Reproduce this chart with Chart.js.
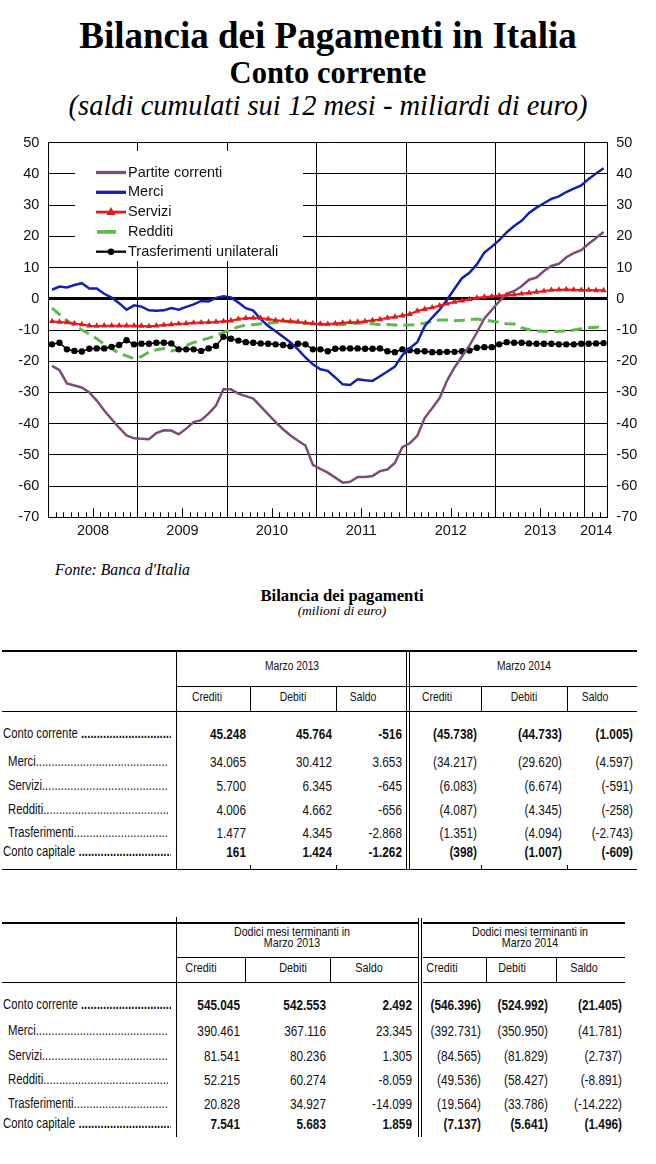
<!DOCTYPE html>
<html>
<head>
<meta charset="utf-8">
<title>Bilancia dei Pagamenti in Italia</title>
<script src="https://cdn.jsdelivr.net/npm/chart.js"></script>
<style>
  body { margin: 0; background: #fff; }
  #page { position: relative; width: 656px; height: 1164px; overflow: hidden; font-family: "Liberation Sans", Arial, sans-serif; color: #000; }
  .title { position: absolute; left: 0; width: 656px; text-align: center; font-family: "Liberation Serif", "Times New Roman", serif; white-space: nowrap; }
  #chartBox { position: absolute; left: 0; top: 125px; width: 656px; height: 425px; }
  .ln { position: absolute; background: #000; }
  .tx { position: absolute; white-space: nowrap; line-height: 18px; height: 18px; color: #111; }
  .lab { overflow: hidden; }
  .b { font-weight: bold; }
</style>
</head>
<body>
<div id="page">
  <div class="title" style="top:14px; font-size:37px; font-weight:bold; line-height:44px;">Bilancia dei Pagamenti in Italia</div>
  <div class="title" style="top:55px; font-size:30.5px; font-weight:bold; line-height:36px;">Conto corrente</div>
  <div class="title" style="top:89px; font-size:28.5px; font-style:italic; line-height:34px;">(saldi cumulati sui 12 mesi - miliardi di euro)</div>
  <div id="chartBox"><canvas id="bopChart" width="656" height="425"></canvas></div>
  <div class="title" style="left:55px; width:auto; text-align:left; top:560px; font-size:15.7px; font-style:italic; line-height:20px;">Fonte: Banca d'Italia</div>
  <div class="title" style="left:142px; width:400px; top:586px; font-size:16.7px; font-weight:bold; line-height:20px;">Bilancia dei pagamenti</div>
  <div class="title" style="left:142px; width:400px; top:603px; font-size:13.5px; font-style:italic; line-height:16px;">(milioni di euro)</div>
  <div id="tables"></div>
</div>

<script>
// monthly series, Jan 2008 .. Mar 2014 (12-month cumulated balances, billions of euro)
const yearLabels = ['2008', '2009', '2010', '2011', '2012', '2013', '2014'];

const partiteCorrenti = [
  -21.5, -22.9, -27.1, -27.8, -28.4, -30.0, -32.6, -35.8, -38.6, -41.3, -43.8, -44.7,
  -44.8, -45.0, -43.0, -42.1, -42.2, -43.4, -41.6, -39.5, -38.9, -36.8, -34.2, -29.0,
  -29.0, -30.4, -31.2, -32.0, -34.5, -37.0, -39.5, -41.8, -43.8, -45.5, -47.0, -53.2,
  -54.5, -55.7, -57.3, -58.9, -58.6, -57.1, -57.1, -56.8, -55.2, -54.7, -52.6, -47.5,
  -46.3, -43.9, -38.2, -35.1, -31.8, -26.2, -22.0, -18.5, -15.0, -10.8, -6.3, -3.6,
  -0.8, 1.6, 2.5, 4.0, 6.1, 6.8, 8.9, 10.5, 11.2, 13.3, 14.6, 15.6,
  17.6, 19.5, 21.4
];
const merci = [
  2.9, 3.9, 3.6, 4.4, 5.0, 3.3, 3.3, 1.6, 0.4, -1.4, -3.5, -2.1,
  -2.5, -3.7, -3.8, -3.7, -3.0, -3.5, -2.6, -1.8, -0.7, -0.9, 0.3, 0.8,
  0.4, -1.2, -3.0, -3.8, -6.5, -8.7, -10.4, -12.2, -14.0, -16.2, -18.8, -21.0,
  -22.6, -23.1, -25.2, -27.4, -27.6, -25.8, -26.1, -26.3, -24.8, -23.3, -21.7, -18.1,
  -15.8, -13.9, -8.8, -6.0, -3.5, -0.3, 3.2, 6.6, 8.3, 11.0, 14.8, 16.7,
  18.8, 21.3, 23.3, 25.0, 27.5, 29.2, 30.6, 32.0, 32.8, 34.2, 35.3, 36.3,
  38.4, 40.1, 41.8
];
const servizi = [
  -7.2, -7.4, -7.6, -7.9, -8.2, -8.6, -8.7, -8.6, -8.6, -8.6, -8.6, -8.6,
  -8.7, -8.8, -8.6, -8.4, -8.2, -8.0, -7.9, -7.7, -7.6, -7.5, -7.4, -7.2,
  -7.0, -6.5, -6.2, -6.1, -6.2, -6.5, -6.9, -7.0, -7.2, -7.4, -7.7, -7.9,
  -8.0, -8.1, -7.9, -7.7, -7.5, -7.4, -7.2, -6.9, -6.6, -6.1, -5.8, -5.4,
  -4.9, -3.9, -3.3, -2.8, -2.2, -1.6, -1.0, -0.6, -0.1, 0.3, 0.6, 0.8,
  1.0, 1.2, 1.3, 1.6, 1.9, 2.2, 2.5, 2.8, 2.9, 3.0, 2.9, 2.8,
  2.8, 2.7, 2.7
];
const redditi = [
  -3.0, -5.0, -7.0, -8.5, -10.0, -11.3, -12.8, -14.5, -16.0, -17.5, -18.3, -19.2,
  -18.5, -17.1, -16.3, -15.9, -16.7, -16.3, -15.0, -14.0, -13.3, -12.6, -11.8, -10.8,
  -9.8, -9.0, -8.4, -8.3, -8.0, -7.8, -7.6, -7.4, -7.3, -7.5, -7.8, -8.0,
  -8.2, -8.3, -8.3, -8.2, -8.0, -7.8, -7.7, -8.0, -8.3, -8.2, -8.4, -8.5,
  -8.4, -8.3, -7.8, -7.2, -6.8, -6.8, -7.0, -6.9, -6.7, -6.5, -6.8, -7.2,
  -7.5, -8.0, -8.1, -9.3, -9.9, -10.3, -10.4, -10.4, -10.4, -10.3, -10.0, -9.6,
  -9.3, -9.1, -8.9
];
const trasferimenti = [
  -14.6, -14.1, -16.2, -16.7, -16.9, -16.0, -15.9, -15.9, -15.4, -14.8, -13.3, -14.6,
  -14.4, -14.4, -14.1, -14.1, -14.3, -16.2, -16.2, -16.2, -16.7, -15.9, -15.1, -12.2,
  -12.8, -13.4, -13.9, -14.1, -14.3, -14.4, -14.6, -14.8, -15.2, -14.4, -14.6, -16.2,
  -16.2, -16.8, -16.0, -15.9, -15.9, -15.9, -16.0, -16.0, -15.9, -16.8, -17.1, -16.2,
  -16.5, -16.8, -16.8, -17.1, -17.1, -17.0, -17.0, -16.8, -16.6, -15.7, -15.5, -15.5,
  -14.6, -13.9, -14.1, -14.1, -14.3, -14.4, -14.4, -14.4, -14.6, -14.6, -14.6, -14.4,
  -14.4, -14.3, -14.2
];

// x positions: month index 0 = Jan 2008; year edges and label positions
const yearEdges = [11.5, 23.5, 35.5, 47.5, 59.5, 71.5];
const yearMids = [5.5, 17.5, 29.5, 41.5, 53.5, 65.5, 73];

// tables (milioni di euro)
const rowLabels = ['Conto corrente', 'Merci', 'Servizi', 'Redditi', 'Trasferimenti', 'Conto capitale'];
const boldRows = [true, false, false, false, false, true];
const subHeaders = ['Crediti', 'Debiti', 'Saldo'];
const marzo2013 = [['45.248', '45.764', '-516'], ['34.065', '30.412', '3.653'], ['5.700', '6.345', '-645'],
  ['4.006', '4.662', '-656'], ['1.477', '4.345', '-2.868'], ['161', '1.424', '-1.262']];
const marzo2014 = [['(45.738)', '(44.733)', '(1.005)'], ['(34.217)', '(29.620)', '(4.597)'], ['(6.083)', '(6.674)', '(-591)'],
  ['(4.087)', '(4.345)', '(-258)'], ['(1.351)', '(4.094)', '(-2.743)'], ['(398)', '(1.007)', '(-609)']];
const dodici2013 = [['545.045', '542.553', '2.492'], ['390.461', '367.116', '23.345'], ['81.541', '80.236', '1.305'],
  ['52.215', '60.274', '-8.059'], ['20.828', '34.927', '-14.099'], ['7.541', '5.683', '1.859']];
const dodici2014 = [['(546.396)', '(524.992)', '(21.405)'], ['(392.731)', '(350.950)', '(41.781)'], ['(84.565)', '(81.829)', '(2.737)'],
  ['(49.536)', '(58.427)', '(-8.891)'], ['(19.564)', '(33.786)', '(-14.222)'], ['(7.137)', '(5.641)', '(1.496)']];

const pts = arr => arr.map((v, i) => ({ x: i, y: v }));

// legend drawn inside the plot, on a white box
const innerLegend = {
  id: 'innerLegend',
  afterDraw(chart) {
    const ctx = chart.ctx;
    ctx.save();
    ctx.fillStyle = '#fff';
    ctx.fillRect(75, 26, 228, 110);
    ctx.font = '14.5px "Liberation Sans", Arial, sans-serif';
    ctx.textBaseline = 'middle';
    chart.data.datasets.forEach((ds, i) => {
      const y = 47.5 + i * 19.8;
      ctx.strokeStyle = ds.borderColor;
      ctx.fillStyle = ds.borderColor;
      ctx.lineWidth = ds.borderWidth + 0.8;
      ctx.beginPath();
      if (ds.borderDash) { ctx.moveTo(97, y); ctx.lineTo(116, y); }
      else { ctx.moveTo(96, y); ctx.lineTo(126, y); }
      ctx.stroke();
      if (ds.pointRadius > 0) {
        ctx.beginPath();
        if (ds.pointStyle === 'triangle') {
          ctx.moveTo(111, y - 5); ctx.lineTo(115.5, y + 3); ctx.lineTo(106.5, y + 3);
        } else {
          ctx.arc(111, y, 3.2, 0, Math.PI * 2);
        }
        ctx.fill();
      }
      ctx.fillStyle = '#111';
      ctx.fillText(ds.label, 128, y);
    });
    ctx.restore();
  }
};

// small month ticks along the bottom edge, pointing inward
const monthTicks = {
  id: 'monthTicks',
  afterDraw(chart) {
    const xs = chart.scales.x;
    const bottom = chart.chartArea.bottom;
    const ctx = chart.ctx;
    ctx.save();
    ctx.strokeStyle = '#000';
    ctx.lineWidth = 1;
    for (let k = 1; k < 75; k++) {
      if (k % 12 === 0) continue;
      const px = Math.round(xs.getPixelForValue(k - 0.5)) + 0.5;
      const len = (k % 12 === 6) ? 9 : 5;
      ctx.beginPath();
      ctx.moveTo(px, bottom);
      ctx.lineTo(px, bottom - len);
      ctx.stroke();
    }
    ctx.restore();
  }
};

Chart.defaults.font.family = '"Liberation Sans", Arial, sans-serif';
Chart.defaults.color = '#111';

new Chart(document.getElementById('bopChart'), {
  type: 'line',
  data: {
    datasets: [
      { label: 'Partite correnti', data: pts(partiteCorrenti), borderColor: '#7b4d78', borderWidth: 2.5, pointRadius: 0, order: 1 },
      { label: 'Merci', data: pts(merci), borderColor: '#1420b0', borderWidth: 2.5, pointRadius: 0, order: 2 },
      { label: 'Servizi', data: pts(servizi), borderColor: '#e3191c', backgroundColor: '#e3191c', borderWidth: 2,
        pointStyle: 'triangle', pointRadius: 3.6, pointBorderWidth: 0, order: 0 },
      { label: 'Redditi', data: pts(redditi), borderColor: '#5fba4c', borderWidth: 3, borderDash: [11, 6], pointRadius: 0, order: 4 },
      { label: 'Trasferimenti unilaterali', data: pts(trasferimenti), borderColor: '#000', backgroundColor: '#000', borderWidth: 1.5,
        pointStyle: 'circle', pointRadius: 3.2, pointBorderWidth: 0, order: 3 }
    ]
  },
  options: {
    responsive: false,
    animation: false,
    devicePixelRatio: 1,
    layout: { padding: { top: 15, left: 0, right: 0, bottom: 0 } },
    plugins: { legend: { display: false }, tooltip: { enabled: false } },
    scales: {
      x: {
        type: 'linear', min: -0.5, max: 74.5,
        afterBuildTicks: s => { s.ticks = yearEdges.concat(yearMids).map(v => ({ value: v })); },
        afterFit: s => { s.height = 32.7; },
        grid: {
          color: c => (c.tick && yearEdges.includes(c.tick.value)) ? '#000' : 'rgba(0,0,0,0)',
          lineWidth: 1, drawTicks: false
        },
        border: { display: false },
        ticks: {
          autoSkip: false, maxRotation: 0, padding: 5, font: { size: 14.5 },
          callback: v => { const k = yearMids.indexOf(v); return k >= 0 ? yearLabels[k] : ''; }
        }
      },
      y: {
        position: 'left', min: -70, max: 50,
        afterFit: s => { s.width = 48.3; },
        grid: { color: '#000', lineWidth: c => (c.tick && c.tick.value === 0) ? 3 : 1, drawTicks: false },
        border: { color: '#000' },
        ticks: { stepSize: 10, padding: 9, font: { size: 14.5 } }
      },
      y2: {
        position: 'right', min: -70, max: 50,
        afterFit: s => { s.width = 48.7; },
        grid: { drawOnChartArea: false, drawTicks: false },
        border: { color: '#000' },
        ticks: { stepSize: 10, padding: 9, font: { size: 14.5 } }
      }
    }
  },
  plugins: [innerLegend, monthTicks]
});

// ---- tables ----
const host = document.getElementById('tables');

// is the narrow face installed? if not, squeeze the normal one
const probe = document.createElement('canvas').getContext('2d');
probe.font = '20px "Liberation Sans Narrow", monospace';
const wNarrow = probe.measureText('Conto corrente').width;
probe.font = '20px monospace';
const narrowOK = Math.abs(wNarrow - probe.measureText('Conto corrente').width) > 0.5;
const squeeze = narrowOK ? 1 : 0.82;
const narrowFamily = narrowOK ? '"Liberation Sans Narrow", "Arial Narrow", sans-serif' : '"Liberation Sans", Arial, sans-serif';

function line(x1, y1, x2, y2, w) {
  const d = document.createElement('div');
  d.className = 'ln';
  w = w || 1;
  if (y1 === y2) { d.style.left = x1 + 'px'; d.style.top = (y1 - w / 2) + 'px'; d.style.width = (x2 - x1) + 'px'; d.style.height = w + 'px'; }
  else { d.style.left = (x1 - w / 2) + 'px'; d.style.top = y1 + 'px'; d.style.width = w + 'px'; d.style.height = (y2 - y1) + 'px'; }
  host.appendChild(d);
}

function txt(s, x, y, align, size, bold) {
  const d = document.createElement('div');
  d.className = 'tx' + (bold ? ' b' : '');
  d.textContent = s;
  d.style.fontFamily = narrowFamily;
  d.style.fontSize = size + 'px';
  d.style.top = (y - 9) + 'px';
  d.style.width = '200px';
  if (align === 'right') { d.style.left = (x - 200) + 'px'; d.style.textAlign = 'right'; d.style.transformOrigin = 'right center'; }
  else { d.style.left = (x - 100) + 'px'; d.style.textAlign = 'center'; d.style.transformOrigin = 'center center'; }
  if (squeeze !== 1) d.style.transform = 'scaleX(' + squeeze + ')';
  host.appendChild(d);
}

function leaderLabel(s, y, bold) {
  const x0 = bold ? 3 : 7.5;
  const x1 = bold ? 171 : 167;
  const d = document.createElement('div');
  d.className = 'tx lab';
  d.style.fontFamily = narrowFamily;
  d.style.fontSize = '13.8px';
  d.style.left = x0 + 'px';
  d.style.width = ((x1 - x0) / squeeze) + 'px';
  d.style.top = (y - 9) + 'px';
  d.style.transformOrigin = 'left center';
  if (squeeze !== 1) d.style.transform = 'scaleX(' + squeeze + ')';
  d.appendChild(document.createTextNode(s));
  const dots = document.createElement('span');
  if (bold) dots.className = 'b';
  dots.textContent = (bold ? ' ' : '') + '.'.repeat(90);
  d.appendChild(dots);
  host.appendChild(d);
}

function buildTable(t) {
  t.lines.forEach(l => line(l[0], l[1], l[2], l[3], l[4]));
  t.heads.forEach((h, g) => h.forEach((s, j) => txt(s, t.headX[g], t.headY[j], 'center', t.headSize)));
  [0, 1].forEach(g => subHeaders.forEach((s, j) => txt(s, t.subX[g * 3 + j], t.subY, 'center', t.subSize)));
  rowLabels.forEach((lab, r) => {
    leaderLabel(lab, t.rowY[r], boldRows[r]);
    [t.left, t.right].forEach((block, g) => block[r].forEach((v, j) =>
      txt(v, t.numRight[g * 3 + j], t.rowY[r], 'right', 14.4, boldRows[r])));
  });
}

buildTable({
  heads: [['Marzo 2013'], ['Marzo 2014']],
  headX: [292, 524], headY: [666], headSize: 12.5,
  subX: [207, 293, 363, 437, 524, 595], subY: 697, subSize: 12.7,
  rowY: [734, 762, 786, 810, 833, 852],
  numRight: [246, 332, 402, 477, 562, 633],
  left: marzo2013, right: marzo2014,
  lines: [
    [2, 651, 637, 651, 1.5], [176, 686, 637, 686], [2, 711, 637, 711], [2, 869, 637, 869],
    [176, 651, 176, 869], [406, 651, 406, 869], [409, 651, 409, 869],
    [250, 686, 250, 711], [336, 686, 336, 711], [481, 686, 481, 711], [567, 686, 567, 711],
    [250, 865, 250, 869], [336, 865, 336, 869], [481, 865, 481, 869], [567, 865, 567, 869]
  ]
});

buildTable({
  heads: [['Dodici mesi terminanti in', 'Marzo 2013'], ['Dodici mesi terminanti in', 'Marzo 2014']],
  headX: [292, 530], headY: [932, 943], headSize: 13,
  subX: [201, 293, 369, 442, 512, 584], subY: 968, subSize: 13.2,
  rowY: [1005, 1031, 1056, 1080, 1104, 1124],
  numRight: [240, 326, 412, 481, 548, 622],
  left: dodici2013, right: dodici2014,
  lines: [
    [2, 923, 418, 923, 1.5], [423, 923, 625, 923, 1.5],
    [176, 957, 418, 957], [423, 957, 625, 957], [2, 982, 418, 982], [423, 982, 625, 982],
    [176, 917, 176, 1137], [418, 918, 418, 1137], [421, 918, 421, 1137],
    [245, 957, 245, 982], [330, 957, 330, 982], [486, 957, 486, 982], [556, 957, 556, 982]
  ]
});
</script>
</body>
</html>
